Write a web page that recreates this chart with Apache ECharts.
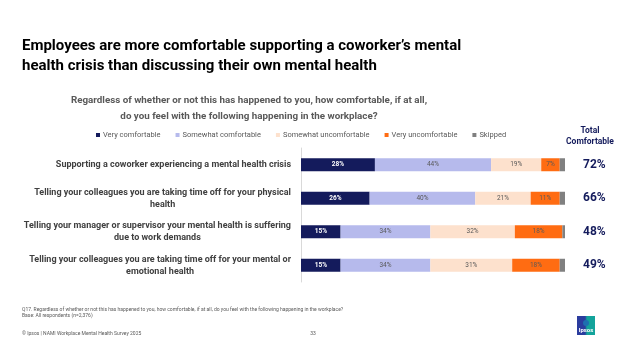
<!DOCTYPE html>
<html><head><meta charset="utf-8">
<script src="https://cdn.jsdelivr.net/npm/echarts@6/dist/echarts.min.js"></script>
<style>html,body{margin:0;padding:0;background:#fff}#c{width:624px;height:351px}</style>
</head><body><div id="c"></div>
<script>
const categories = [
  "Supporting a coworker experiencing a mental health crisis",
  "Telling your colleagues you are taking time off for your physical\nhealth",
  "Telling your manager or supervisor your mental health is suffering\ndue to work demands",
  "Telling your colleagues you are taking time off for your mental or\nemotional health"
];
const seriesNames = ["Very comfortable","Somewhat comfortable","Somewhat uncomfortable","Very uncomfortable","Skipped"];
const veryComfortable = [28, 26, 15, 15];
const somewhatComfortable = [44, 40, 34, 34];
const somewhatUncomfortable = [19, 21, 32, 31];
const veryUncomfortable = [7, 11, 18, 18];
const skipped = [2, 2, 1, 2];
const totalComfortable = ["72%", "66%", "48%", "49%"];

const colors = ["#141b5c","#b6baec","#fde1cd","#ff6c12","#808080"];
const labelColors = ["#ffffff","#595959","#595959","#595959","#595959"];
const FONT = "Roboto";
const values = [veryComfortable, somewhatComfortable, somewhatUncomfortable, veryUncomfortable, skipped];

const chart = echarts.init(document.getElementById('c'), null, {renderer:'canvas'});
const series = seriesNames.map((n,i)=>({
  name:n, type:'bar', stack:'a', barWidth:13, data:values[i],
  itemStyle:{color:colors[i]},
  label:{show:i<4, position:'inside', formatter:'{c}%', fontSize:6.5, color:labelColors[i], fontFamily:FONT, fontWeight: i===0?'bold':'normal'}
}));
function txt(x, y, text, font, color, align, lh){
  return {type:'text', x:x, y:y, silent:true,
    style:{text:text, font:font, fill:color, textAlign:align||'left', textVerticalAlign:'top', lineHeight:lh}};
}
chart.setOption({
  animation:false,
  textStyle:{fontFamily:FONT},
  legend:{top:126, left:91, itemWidth:4, itemHeight:4, itemGap:15, icon:'rect',
    textStyle:{fontSize:7.5, color:'#595959', fontFamily:FONT, padding:[0,0,0,-2]}, data:seriesNames},
  grid:{left:301, width:264, top:148, height:134},
  xAxis:{type:'value', min:0, max:100, show:false},
  yAxis:[
    {type:'category', data:categories, inverse:true,
     axisLine:{show:true, lineStyle:{color:'#d9d9d9'}}, axisTick:{show:false},
     axisLabel:{margin:10, color:'#404040', fontSize:9, fontWeight:'bold', lineHeight:12, fontFamily:FONT,
       formatter:(v)=>v.split('\n').map(s=>'{c|'+s+'}').join('\n'),
       rich:{c:{align:'center', fontSize:9, fontWeight:'bold', color:'#404040', lineHeight:12, fontFamily:FONT}}}},
    {type:'category', data:totalComfortable, inverse:true, position:'right',
     axisLine:{show:false}, axisTick:{show:false},
     axisLabel:{margin:18, color:'#141b5c', fontSize:12, fontWeight:'bold', fontFamily:FONT}}
  ],
  series:series,
  graphic:[
    txt(22, 36.5, "Employees are more comfortable supporting a coworker’s mental\nhealth crisis than discussing their own mental health", "bold 15px "+FONT, "#000", 'left', 20),
    txt(249, 93, "Regardless of whether or not this has happened to you, how comfortable, if at all,\ndo you feel with the following happening in the workplace?", "bold 9.8px "+FONT, "#595959", 'center', 16),
    txt(590, 125, "Total\nComfortable", "bold 8.5px "+FONT, "#141b5c", 'center', 11.5),
    txt(22, 306, "Q17. Regardless of whether or not this has happened to you, how comfortable, if at all, do you feel with the following happening in the workplace?\nBase: All respondents (n=2,376)", "5px "+FONT, "#595959", 'left', 6.5),
    txt(22, 331, "© Ipsos | NAMI Workplace Mental Health Survey 2025", "5px "+FONT, "#595959", 'left', 6),
    txt(313, 331, "33", "5px "+FONT, "#595959", 'center', 6),
    {type:'group', x:577, y:316, children:[
      {type:'rect', shape:{x:0,y:0,width:18,height:19}, style:{fill:new echarts.graphic.LinearGradient(0,0,1,0,[{offset:0,color:'#2b3c9e'},{offset:0.45,color:'#2b3c9e'},{offset:0.55,color:'#13a39b'},{offset:1,color:'#13a39b'}])}},
      {type:'circle', shape:{cx:9,cy:7,r:3}, style:{fill:'#1e6fb0'}},
      {type:'text', style:{x:9,y:14.5,text:'Ipsos', fill:'#fff', font:'bold 6px '+FONT, textAlign:'center', textVerticalAlign:'middle'}}
    ]}
  ]
});
</script></body></html>
